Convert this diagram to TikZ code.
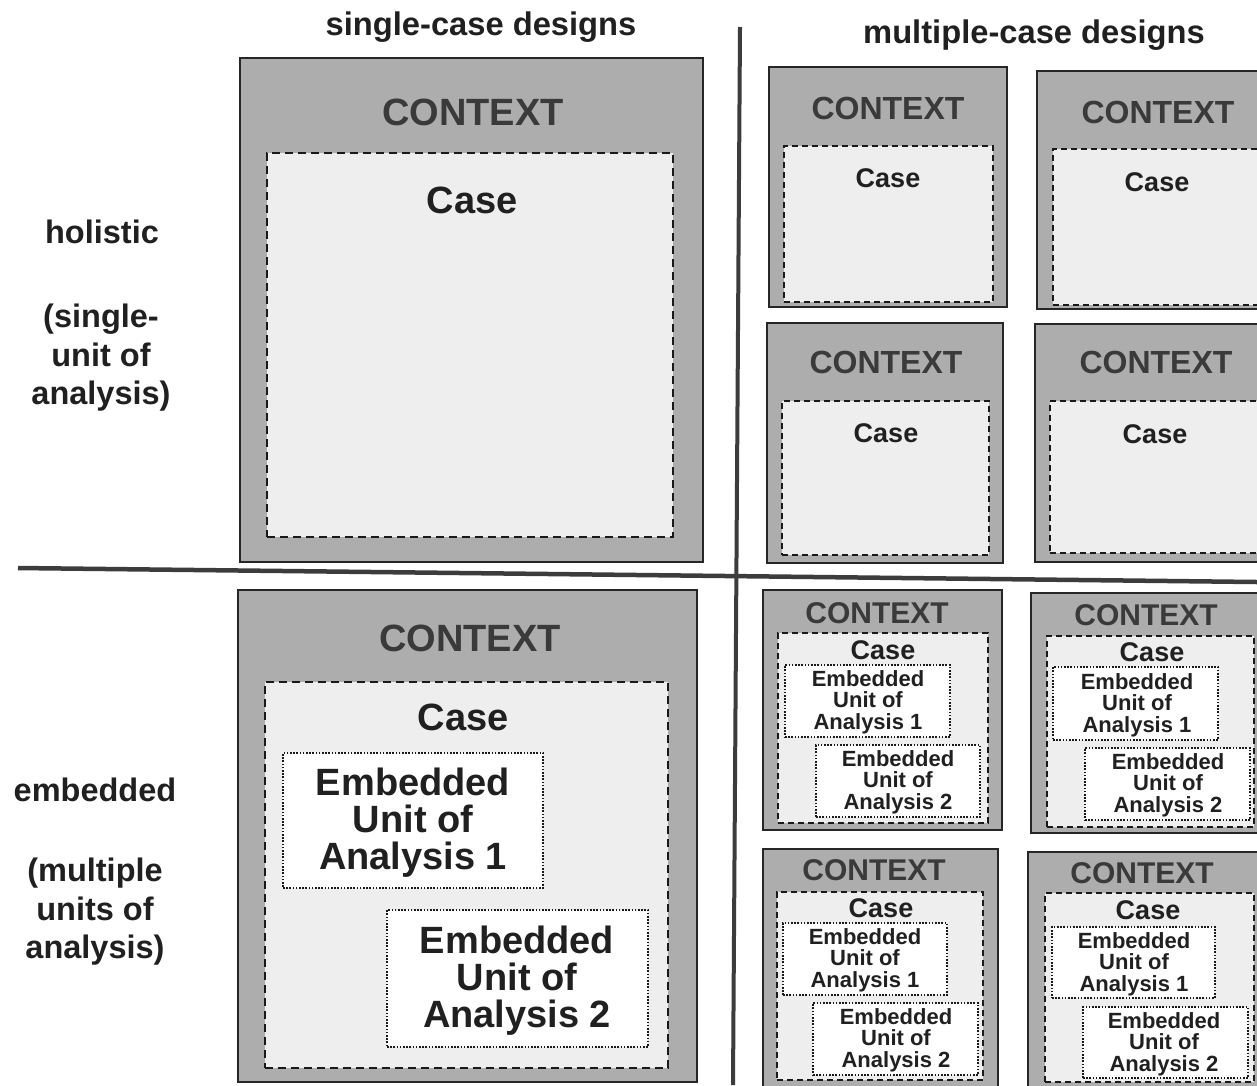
\documentclass[tikz,border=0pt]{standalone}
\usepackage{fontspec}
\setmainfont{Liberation Sans}
\definecolor{ctxgray}{HTML}{ADADAD}
\definecolor{casegray}{HTML}{EEEEEE}
\definecolor{ctxtext}{HTML}{3A3A3A}
\definecolor{darktext}{HTML}{202020}
\definecolor{divcol}{HTML}{3C3C3C}
\newcommand{\mybox}[6]{\node[#2, minimum width={(#5-#3)*1pt}, minimum height={(#6-#4)*1pt}] (#1) at ({(#3+#5)/2},{(#4+#6)/2}) {};}
\tikzset{
  base box/.style={rectangle, inner sep=0pt, outer sep=0pt},
  ctxbox/.style={base box, draw=black!85, line width=2.2pt, fill=ctxgray},
  casebox/.style={base box, draw=black!90, line width=2.2pt, dash pattern=on 8pt off 5pt, fill=casegray},
  scasebox/.style={base box, draw=black!90, line width=1.9pt, dash pattern=on 6pt off 4pt, fill=casegray},
  embbox/.style={base box, draw=black!90, line width=1.9pt, dash pattern=on 1.6pt off 1.6pt, fill=white},
  txt/.style={inner sep=0pt, outer sep=0pt, text=darktext, align=center},
  bigctx/.style={txt, text=ctxtext, font=\fontsize{38pt}{37pt}\selectfont\bfseries},
  bigcase/.style={txt, font=\fontsize{38pt}{37pt}\selectfont\bfseries},
  bigemb/.style={txt, font=\fontsize{38pt}{37pt}\selectfont\bfseries},
  midctx/.style={txt, text=ctxtext, font=\fontsize{32pt}{32pt}\selectfont\bfseries},
  smctx/.style={txt, text=ctxtext, font=\fontsize{30pt}{30pt}\selectfont\bfseries},
  smcase/.style={txt, font=\fontsize{27pt}{27pt}\selectfont\bfseries},
  smemb/.style={txt, font=\fontsize{22pt}{21.5pt}\selectfont\bfseries},
  header/.style={txt, font=\fontsize{32.7pt}{34pt}\selectfont\bfseries, anchor=base},
  rowlbl/.style={txt, font=\fontsize{32.5pt}{38.5pt}\selectfont\bfseries},
  divider/.style={draw=divcol, line width=4.5pt},
}
\begin{document}
\begin{tikzpicture}[x=1pt, y=-1pt]
\useasboundingbox (0,0) rectangle (1257,1085);
\clip (0,0) rectangle (1257,1085);
\fill[white] (0,0) rectangle (1257,1085);

% headers
\node[header] (h1) at (481,35) {single-case designs};
\node[header] (h2) at (1034,43) {multiple-case designs};

% row labels
\node[rowlbl] (r1) at (102,232) {holistic};
\node[rowlbl] (r1b) at (101,358) {(single-\\unit of\\analysis)};
\node[rowlbl] (r2) at (95,790) {embedded};
\node[rowlbl] (r2b) at (95,912) {(multiple\\units of\\analysis)};

% dividers
\coordinate (vtop) at (740,27);
\coordinate (vbot) at (733,1085);
\coordinate (hleft) at (18,568);
\coordinate (hright) at (1257,582);
\draw[divider, line width=4pt] (vtop) -- (vbot);
\draw[divider] (hleft) -- (hright);

% ---- top-left: single holistic
\mybox{tlc}{ctxbox}{240}{58}{703}{562}
\mybox{tlk}{casebox}{267}{153}{673}{537}
\node[bigctx] (tlct) at (473,112) {CONTEXT};
\node[bigcase] (tlkt) at (472,200) {Case};

% ---- top-right: multiple holistic
\mybox{a1c}{ctxbox}{769}{67}{1007}{307}
\mybox{a1k}{scasebox}{784}{146}{993}{302}
\node[midctx] (a1ct) at (888,108) {CONTEXT};
\node[smcase] (a1kt) at (888,178) {Case};

\mybox{a2c}{ctxbox}{1037}{71}{1275}{309}
\mybox{a2k}{scasebox}{1053}{149}{1262}{305}
\node[midctx] (a2ct) at (1158,112) {CONTEXT};
\node[smcase] (a2kt) at (1157,182) {Case};

\mybox{a3c}{ctxbox}{767}{323}{1003}{563}
\mybox{a3k}{scasebox}{782}{401}{989}{555}
\node[midctx] (a3ct) at (886,362) {CONTEXT};
\node[smcase] (a3kt) at (886,433) {Case};

\mybox{a4c}{ctxbox}{1035}{324}{1273}{562}
\mybox{a4k}{scasebox}{1050}{401}{1262}{553}
\node[midctx] (a4ct) at (1156,362) {CONTEXT};
\node[smcase] (a4kt) at (1155,434) {Case};

% ---- bottom-left: single embedded
\mybox{blc}{ctxbox}{238}{590}{697}{1082}
\mybox{blk}{casebox}{265}{682}{668}{1068}
\mybox{ble1}{embbox}{283}{753}{543}{888}
\mybox{ble2}{embbox}{387}{910}{648}{1047}
\node[bigctx] (blct) at (470,638) {CONTEXT};
\node[bigcase] (blkt) at (463,717) {Case};
\node[bigemb] (ble1t) at (413,823) {Embedded\\Unit of\\Analysis 1};
\node[bigemb] (ble2t) at (517,981) {Embedded\\Unit of\\Analysis 2};

% ---- bottom-right: multiple embedded
\mybox{b1c}{ctxbox}{763}{590}{1002}{830}
\mybox{b1k}{scasebox}{778}{633}{988}{823}
\mybox{b1e1}{embbox}{785}{665}{950}{737}
\mybox{b1e2}{embbox}{816}{745}{980}{817}
\node[smctx] (b1ct) at (877,613) {CONTEXT};
\node[smcase] (b1kt) at (883,650) {Case};
\node[smemb] (b1e1t) at (868,702) {Embedded\\Unit of\\Analysis 1};
\node[smemb] (b1e2t) at (898,782) {Embedded\\Unit of\\Analysis 2};

\mybox{b2c}{ctxbox}{1031}{593}{1270}{833}
\mybox{b2k}{scasebox}{1047}{636}{1254}{827}
\mybox{b2e1}{embbox}{1053}{667}{1218}{740}
\mybox{b2e2}{embbox}{1085}{748}{1250}{820}
\node[smctx] (b2ct) at (1146,615) {CONTEXT};
\node[smcase] (b2kt) at (1152,652) {Case};
\node[smemb] (b2e1t) at (1137,705) {Embedded\\Unit of\\Analysis 1};
\node[smemb] (b2e2t) at (1168,785) {Embedded\\Unit of\\Analysis 2};

\mybox{b3c}{ctxbox}{763}{849}{998}{1095}
\mybox{b3k}{scasebox}{777}{892}{983}{1080}
\mybox{b3e1}{embbox}{783}{923}{947}{995}
\mybox{b3e2}{embbox}{813}{1003}{978}{1075}
\node[smctx] (b3ct) at (874,870) {CONTEXT};
\node[smcase] (b3kt) at (881,908) {Case};
\node[smemb] (b3e1t) at (865,960) {Embedded\\Unit of\\Analysis 1};
\node[smemb] (b3e2t) at (896,1040) {Embedded\\Unit of\\Analysis 2};

\mybox{b4c}{ctxbox}{1028}{852}{1270}{1095}
\mybox{b4k}{scasebox}{1045}{893}{1254}{1082}
\mybox{b4e1}{embbox}{1052}{927}{1215}{998}
\mybox{b4e2}{embbox}{1083}{1007}{1248}{1078}
\node[smctx] (b4ct) at (1142,873) {CONTEXT};
\node[smcase] (b4kt) at (1148,910) {Case};
\node[smemb] (b4e1t) at (1134,964) {Embedded\\Unit of\\Analysis 1};
\node[smemb] (b4e2t) at (1164,1044) {Embedded\\Unit of\\Analysis 2};
\end{tikzpicture}
\end{document}
